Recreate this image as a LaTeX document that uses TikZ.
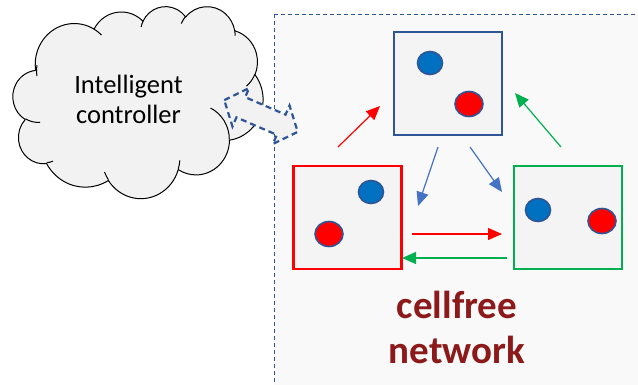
\documentclass[tikz,border=0pt]{standalone}
\usepackage{fontspec}
\setmainfont{Carlito}
\usetikzlibrary{shapes.geometric,arrows.meta}
\definecolor{dblue}{HTML}{2F5597}
\definecolor{lblue}{HTML}{4472C4}
\definecolor{dotblue}{HTML}{0070C0}
\definecolor{gr}{HTML}{00B050}
\definecolor{rd}{HTML}{FF0000}
\definecolor{regionbg}{HTML}{F9F9F9}
\definecolor{boxbg}{HTML}{F4F4F4}
\definecolor{cloudbg}{HTML}{F2F2F2}
\definecolor{txtred}{HTML}{8C1A1A}
\tikzset{
  cellbox/.style={draw=#1, line width=2.5pt, fill=boxbg, minimum width=108pt, minimum height=103pt, inner sep=0pt},
  bdot/.style={ellipse, draw=dblue, line width=1.6pt, fill=dotblue, minimum width=25pt, minimum height=23pt, inner sep=0pt},
  rdot/.style={ellipse, draw=dblue, line width=1.6pt, fill=rd, minimum width=28pt, minimum height=25pt, inner sep=0pt},
  link/.style={draw=#1, line width=1.2pt, -{Triangle[length=14pt,width=12pt]}},
}
% convert OOXML visual arc angles to parametric ones
\def\ooconv#1#2#3#4#5{%
  \pgfmathsetmacro\tmpa{atan2(#2*sin(#4), #3*cos(#4))}%
  \pgfmathsetmacro\tmpb{atan2(#2*sin(#4+#5), #3*cos(#4+#5))}%
  \pgfmathsetmacro\tmpc{mod(\tmpb-\tmpa+720,360)}%
  \expandafter\let\csname cloudS#1\endcsname\tmpa
  \expandafter\let\csname cloudD#1\endcsname\tmpc
}
\ooconv{a}{67.53}{91.90}{-190.4875}{123.7805}
\ooconv{b}{53.33}{72.67}{-144.1024}{89.9452}
\ooconv{c}{43.65}{59.45}{-145.8079}{99.7230}
\ooconv{d}{48.57}{65.95}{-130.9861}{117.2417}
\ooconv{e}{53.33}{72.73}{-78.7089}{109.0269}
\ooconv{f}{67.75}{92.20}{-46.2673}{130.2690}
\ooconv{g}{57.85}{78.67}{0.6250}{114.0333}
\ooconv{h}{67.52}{92.15}{22.4516}{115.1726}
\ooconv{i}{77.20}{105.43}{66.2426}{75.7110}
\ooconv{j}{43.60}{59.18}{-274.9421}{146.7356}
\ooconv{k}{43.45}{59.45}{-246.8285}{152.5189}
% inner arcs
\ooconv{A}{43.45}{59.45}{86.7420}{26.4295}
\ooconv{B}{43.60}{59.18}{73.6105}{11.4475}
\ooconv{C}{67.52}{92.15}{137.6242}{14.0811}
\ooconv{D}{67.52}{92.15}{6.4533}{15.9984}
\ooconv{E}{57.85}{78.67}{-70.2924}{70.9174}
\ooconv{F}{53.33}{72.73}{30.3180}{27.7515}
\ooconv{G}{48.57}{65.95}{-13.7443}{14.8589}
\ooconv{H}{48.57}{65.95}{-149.1815}{18.1954}
\ooconv{I}{43.65}{59.45}{-163.4943}{17.6864}
\ooconv{J}{67.53}{91.90}{-66.7070}{12.3194}
\ooconv{K}{67.53}{91.90}{-190.4875}{21.1123}
\newcommand\oarc[3]{arc[start angle=\csname cloudS#1\endcsname, delta angle=\csname cloudD#1\endcsname, x radius=#2, y radius=#3]}
\begin{document}
\begin{tikzpicture}[x=1pt,y=-1pt]
\useasboundingbox (0,0) rectangle (638,384);
% region
\path[draw=dblue, line width=1pt, dash pattern=on 4pt off 3pt, fill=regionbg] (274,14) rectangle (660,400);
% cloud (PowerPoint cloud outline)
\begin{scope}[shift={(13,6)}, x=0.5787pt, y=-0.4444pt]
\draw[black, line width=1pt, fill=cloudbg, line join=round]
  (39.00,143.70) \oarc{a}{67.53}{91.90} \oarc{b}{53.33}{72.67} \oarc{c}{43.65}{59.45}
  \oarc{d}{48.57}{65.95} \oarc{e}{53.33}{72.73} \oarc{f}{67.75}{92.20}
  \oarc{g}{57.85}{78.67} \oarc{h}{67.52}{92.15} \oarc{i}{77.20}{105.43}
  \oarc{j}{43.60}{59.18} \oarc{k}{43.45}{59.45} -- cycle;
\draw[black, line width=1pt]
  (46.93,261.77) \oarc{A}{43.45}{59.45}
  (69.28,348.99) \oarc{B}{43.60}{59.18}
  (164.78,390.90) \oarc{C}{67.52}{92.15}
  (288.27,347.51) \oarc{D}{67.52}{92.15}
  (341.29,229.54) \oarc{E}{57.85}{78.67}
  (417.98,153.54) \oarc{F}{53.33}{72.73}
  (383.24,54.26) \oarc{G}{48.57}{65.95}
  (290.78,39.52) \oarc{H}{48.57}{65.95}
  (221.41,47.20) \oarc{I}{43.65}{59.45}
  (140.00,51.92) \oarc{J}{67.53}{91.90}
  (41.27,157.89) \oarc{K}{67.53}{91.90};
\end{scope}
\node[font=\fontsize{26.5}{30}\selectfont, align=center] (ctl) at (128.5,99) {Intelligent\\controller};
% double arrow
\begin{scope}[shift={(261,116)}, rotate=-23.4]
\draw[dblue, line width=2.2pt, dash pattern=on 6pt off 4pt, fill=cloudbg, line join=miter]
  (-40,0) -- (-22,-21) -- (-22,-11) -- (22,-11) -- (22,-21) -- (40,0) -- (22,21) -- (22,11) -- (-22,11) -- (-22,21) -- cycle;
\end{scope}
% boxes
\node[cellbox=dblue] (top) at (448,83.5) {};
\node[cellbox=rd] (left) at (347.5,217.5) {};
\node[cellbox=gr] (right) at (568,217.5) {};
% dots
\node[bdot] (tb) at (430,63) {};
\node[rdot] (tr) at (469,104) {};
\node[bdot] (lb) at (371,192) {};
\node[rdot] (lr) at (329,234) {};
\node[bdot] (rb) at (538,210) {};
\node[rdot] (rr) at (602,221) {};
% arrow endpoints
\coordinate (a1s) at (338,147); \coordinate (a1e) at (380,106);
\coordinate (a2s) at (561,147); \coordinate (a2e) at (515,93);
\coordinate (a3s) at (438,147); \coordinate (a3e) at (418,206);
\coordinate (a4s) at (470,147); \coordinate (a4e) at (502,192);
\coordinate (a5s) at (412,234); \coordinate (a5e) at (502,234);
\coordinate (a6s) at (507,258); \coordinate (a6e) at (402,258);
\draw[link=rd] (a1s) -- (a1e);
\draw[link=gr] (a2s) -- (a2e);
\draw[link=lblue] (a3s) -- (a3e);
\draw[link=lblue] (a4s) -- (a4e);
\draw[link=rd] (a5s) -- (a5e);
\draw[link=gr] (a6s) -- (a6e);
% label
\node[font=\fontsize{39}{45}\selectfont\bfseries, text=txtred, anchor=base] (cf1) at (457,318) {cellfree};
\node[font=\fontsize{39}{45}\selectfont\bfseries, text=txtred, anchor=base] (cf2) at (457,363) {network};
\end{tikzpicture}
\end{document}
